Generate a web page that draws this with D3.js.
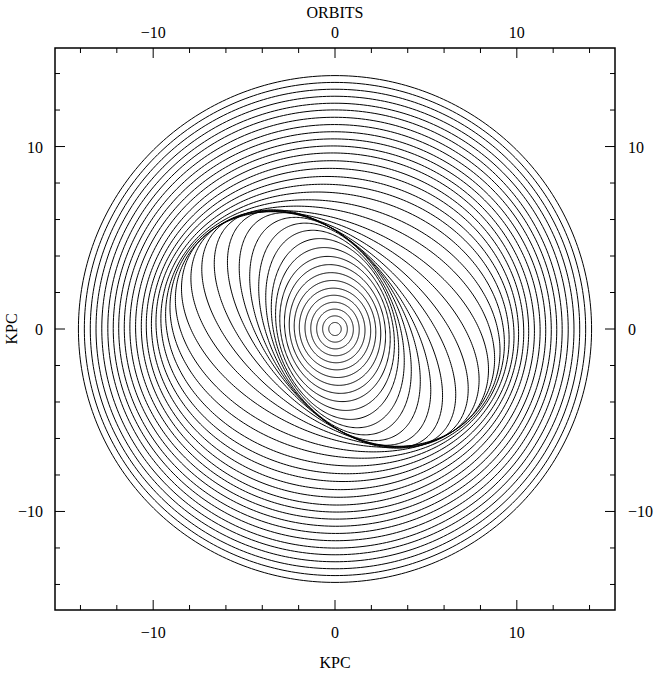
<!DOCTYPE html>
<html>
<head>
<meta charset="utf-8">
<script src="https://cdn.jsdelivr.net/npm/d3@7"></script>
<style>
  html, body { margin: 0; padding: 0; background: #fff; }
  svg text { font-family: "Liberation Serif", "DejaVu Serif", serif; fill: #000; }
</style>
</head>
<body>
<svg id="chart" width="667" height="673"></svg>
<script>
// ---- data ----
const title = "ORBITS";
const xLabel = "KPC";
const yLabel = "KPC";
const axisDomain = [-15.4, 15.4];
const majorTicks = [-10, 0, 10];
const minorTicks = [-14, -12, -8, -6, -4, -2, 2, 4, 6, 8, 12, 14];
// each orbit: mean radius (kpc), ellipticity, orientation of major axis (deg)
const orbitRadius = [0.35, 0.70, 1.05, 1.40, 1.75, 2.10, 2.45, 2.80, 3.15, 3.50,
                     3.85, 4.20, 4.55, 4.90, 5.25, 5.60, 5.95, 6.30, 6.65, 7.00,
                     7.35, 7.70, 8.05, 8.40, 8.75, 9.10, 9.45, 9.80, 10.15, 10.50,
                     10.85, 11.20, 11.55, 11.90, 12.25, 12.60, 12.95, 13.30, 13.65, 14.00];
const orbitEllip = [0.02, 0.03, 0.04, 0.05, 0.06, 0.07, 0.09, 0.11, 0.13, 0.15,
                    0.18, 0.21, 0.24, 0.26, 0.28, 0.30, 0.31, 0.30, 0.28, 0.25,
                    0.22, 0.18, 0.15, 0.12, 0.10, 0.085, 0.07, 0.06, 0.05, 0.045,
                    0.04, 0.035, 0.03, 0.025, 0.02, 0.018, 0.015, 0.012, 0.01, 0.008];
const orbitAngle = [95, 96, 97, 98, 99, 100, 100, 101, 102, 103,
                    105, 107, 111, 115, 120, 125, 130, 136, 142, 148,
                    154, 159, 163, 167, 170, 172, 174, 175, 176, 176,
                    177, 177, 178, 178, 178, 179, 179, 179, 179, 180];

// ---- layout ----
const svg = d3.select("#chart");
const pL = 55, pR = 615, pT = 48, pB = 610;
const x = d3.scaleLinear().domain(axisDomain).range([pL, pR]);
const y = d3.scaleLinear().domain(axisDomain).range([pB, pT]);

// orbits
const orbits = orbitRadius.map((R, i) => ({ R, e: orbitEllip[i], th: orbitAngle[i] }));
const line = d3.line().x(d => x(d[0])).y(d => y(d[1])).curve(d3.curveLinearClosed);
const tSteps = d3.range(0, 360, 1);
function orbitPoints(o) {
  const a = o.R * (1 + o.e), b = o.R * (1 - o.e), th = o.th * Math.PI / 180;
  return tSteps.map(t => {
    const tr = t * Math.PI / 180;
    const u = a * Math.cos(tr), v = b * Math.sin(tr);
    return [u * Math.cos(th) - v * Math.sin(th), u * Math.sin(th) + v * Math.cos(th)];
  });
}
svg.append("g").selectAll("path").data(orbits).join("path")
  .attr("d", d => line(orbitPoints(d)))
  .attr("fill", "none").attr("stroke", "#000").attr("stroke-width", 1);

// frame
svg.append("rect").attr("x", pL).attr("y", pT)
  .attr("width", pR - pL).attr("height", pB - pT)
  .attr("fill", "none").attr("stroke", "#000").attr("stroke-width", 1.5);

// ticks (inward) on all sides
const tickG = svg.append("g").attr("stroke", "#000").attr("stroke-width", 1);
function ticks(vals, len) {
  vals.forEach(v => {
    tickG.append("line").attr("x1", x(v)).attr("x2", x(v)).attr("y1", pB).attr("y2", pB - len);
    tickG.append("line").attr("x1", x(v)).attr("x2", x(v)).attr("y1", pT).attr("y2", pT + len);
    tickG.append("line").attr("y1", y(v)).attr("y2", y(v)).attr("x1", pL).attr("x2", pL + len);
    tickG.append("line").attr("y1", y(v)).attr("y2", y(v)).attr("x1", pR).attr("x2", pR - len);
  });
}
ticks(majorTicks, 10);
ticks(minorTicks, 5);

const fmt = v => v < 0 ? "\u2212" + Math.abs(v) : String(v);
const fs = 16;
majorTicks.forEach(v => {
  svg.append("text").attr("x", x(v)).attr("y", 38).attr("text-anchor", "middle")
    .attr("font-size", fs).text(fmt(v));
  svg.append("text").attr("x", x(v)).attr("y", 638).attr("text-anchor", "middle")
    .attr("font-size", fs).text(fmt(v));
  svg.append("text").attr("x", 43).attr("y", y(v) + 6).attr("text-anchor", "end")
    .attr("font-size", fs).text(fmt(v));
  svg.append("text").attr("x", 628).attr("y", y(v) + 6).attr("text-anchor", "start")
    .attr("font-size", fs).text(fmt(v));
});
svg.append("text").attr("x", x(0)).attr("y", 18).attr("text-anchor", "middle")
  .attr("font-size", fs).text(title);
svg.append("text").attr("x", x(0)).attr("y", 668).attr("text-anchor", "middle")
  .attr("font-size", fs).text(xLabel);
svg.append("text").attr("transform", `translate(17, ${y(0)}) rotate(-90)`)
  .attr("text-anchor", "middle").attr("font-size", fs).text(yLabel);
</script>
</body>
</html>
